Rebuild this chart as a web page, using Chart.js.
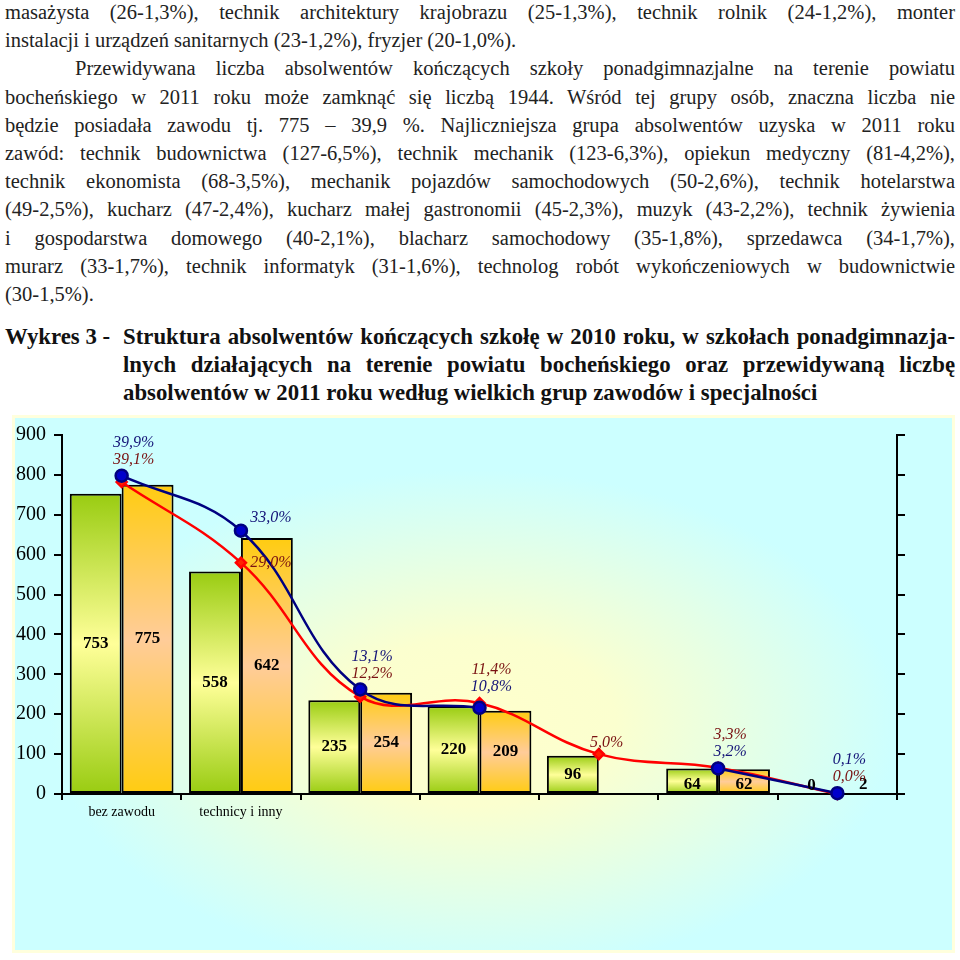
<!DOCTYPE html>
<html lang="pl">
<head>
<meta charset="utf-8">
<script src="https://cdn.jsdelivr.net/npm/chart.js@4.4.0/dist/chart.umd.min.js"></script>
<style>
  body { margin: 0; width: 960px; height: 960px; background: #fff; position: relative; overflow: hidden; font-family: "Liberation Serif", serif; }
  .txt { position: absolute; left: 5px; width: 950px; top: -2px; font-size: 20.5px; line-height: 28.2px; color: #222; }
  .j { text-align: justify; text-align-last: justify; }
  .ind { padding-left: 70px; }
  .tytul { position: absolute; left: 5px; width: 950px; top: 323px; font-weight: bold; font-size: 22.8px; line-height: 28px; color: #111; }
  .tytul .nr { position: absolute; left: 0; top: 0; }
  .tytul .tresc { margin-left: 118px; }
  #box { position: absolute; left: 12px; top: 415px; width: 943px; height: 538px; }
</style>
</head>
<body>

<div class="txt">
  <div class="j">masażysta (26-1,3%), technik architektury krajobrazu (25-1,3%), technik rolnik (24-1,2%), monter</div>
  <div>instalacji i urządzeń sanitarnych (23-1,2%), fryzjer (20-1,0%).</div>
  <div class="j ind">Przewidywana liczba absolwentów kończących szkoły ponadgimnazjalne na terenie powiatu</div>
  <div class="j">bocheńskiego w 2011 roku może zamknąć się liczbą 1944. Wśród tej grupy osób, znaczna liczba nie</div>
  <div class="j">będzie posiadała zawodu tj. 775 – 39,9 %. Najliczniejsza grupa absolwentów uzyska w 2011 roku</div>
  <div class="j">zawód: technik budownictwa (127-6,5%), technik mechanik (123-6,3%), opiekun medyczny (81-4,2%),</div>
  <div class="j">technik ekonomista (68-3,5%), mechanik pojazdów samochodowych (50-2,6%), technik hotelarstwa</div>
  <div class="j">(49-2,5%), kucharz (47-2,4%), kucharz małej gastronomii (45-2,3%), muzyk (43-2,2%), technik żywienia</div>
  <div class="j">i gospodarstwa domowego (40-2,1%), blacharz samochodowy (35-1,8%), sprzedawca (34-1,7%),</div>
  <div class="j">murarz (33-1,7%), technik informatyk (31-1,6%), technolog robót wykończeniowych w budownictwie</div>
  <div>(30-1,5%).</div>
</div>

<div class="tytul">
  <div class="nr">Wykres 3 -</div>
  <div class="tresc">
    <div class="j">Struktura absolwentów kończących szkołę w 2010 roku, w szkołach ponadgimnazja-</div>
    <div class="j">lnych działających na terenie powiatu bocheńskiego oraz przewidywaną liczbę</div>
    <div>absolwentów w 2011 roku według wielkich grup zawodów i specjalności</div>
  </div>
</div>

<div id="box"><canvas id="wykres"></canvas></div>

<script>
// dane z wykresu
const kategorie = ['bez zawodu', 'technicy i inny', '', '', '', '', ''];
const abs2010 = [753, 558, 235, 220, 96, 64, 0];
const abs2011 = [775, 642, 254, 209, null, 62, 2];
const proc2010 = [39.1, 29.0, 12.2, 11.4, 5.0, 3.3, 0.0];
const proc2011 = [39.9, 33.0, 13.1, 10.8, null, 3.2, 0.1];

const FONT = '"Liberation Serif", serif';

// gradient pionowy w kazdym slupku (gora - srodek - dol)
function gradientSlupka(krawedz, srodek) {
  return function (ctx) {
    const chart = ctx.chart;
    if (!chart.chartArea || ctx.type !== 'data' || ctx.raw == null) return krawedz;
    const y = chart.scales.y;
    const gora = y.getPixelForValue(ctx.raw);
    const dol = y.getPixelForValue(0);
    if (dol - gora < 1) return krawedz;
    const g = chart.ctx.createLinearGradient(0, gora, 0, dol);
    g.addColorStop(0, krawedz);
    g.addColorStop(0.5, srodek);
    g.addColorStop(1, krawedz);
    return g;
  };
}

// tlo: jasny blekit na brzegach, zolty w srodku
const tlo = {
  id: 'tlo',
  beforeDraw(chart) {
    const c = chart.ctx, w = chart.width, h = chart.height;
    c.save();
    c.fillStyle = '#ffffdd';
    c.fillRect(0, 0, w, h);
    const cx = w * 0.49, cy = h * 0.57, sx = w * 0.5, sy = h * 0.52;
    c.translate(cx, cy);
    c.scale(sx, sy);
    const g = c.createRadialGradient(0, 0, 0, 0, 0, 1);
    g.addColorStop(0, '#ffffcc');
    g.addColorStop(0.3, '#fbffcf');
    g.addColorStop(0.9, '#ccffff');
    g.addColorStop(1, '#ccffff');
    c.fillStyle = g;
    c.fillRect((3 - cx) / sx, (3 - cy) / sy, (w - 6) / sx, (h - 6) / sy);
    c.restore();
  }
};

function fmt(v) {
  return v.toFixed(1).replace('.', ',') + '%';
}

// etykiety slupkow i procentow
const etykiety = {
  id: 'etykiety',
  afterDatasetsDraw(chart) {
    const c = chart.ctx;
    c.save();
    c.textAlign = 'center';
    c.textBaseline = 'middle';

    c.font = 'bold 17px ' + FONT;
    c.fillStyle = '#000';
    [0, 1].forEach(di => {
      const meta = chart.getDatasetMeta(di);
      meta.data.forEach((bar, i) => {
        const v = chart.data.datasets[di].data[i];
        if (v == null) return;
        let y = (bar.y + bar.base) / 2;
        if (bar.base - bar.y < 30) y = bar.base - 8;
        c.fillText(String(v), bar.x, y);
      });
    });

    c.font = 'italic 16px ' + FONT;
    const czerw = chart.getDatasetMeta(2).data;
    const nieb = chart.getDatasetMeta(3).data;
    const kolR = '#7a1212', kolB = '#141478';
    for (let i = 0; i < kategorie.length; i++) {
      const r = proc2010[i], b = proc2011[i];
      const pr = czerw[i], pb = nieb[i];
      if (r != null && b != null) {
        const bWyzej = b >= r;
        if (Math.abs(pr.y - pb.y) < 25) {
          const yTop = Math.min(pr.y, pb.y);
          c.fillStyle = kolB;
          c.fillText(fmt(b), pb.x + 12, yTop - (bWyzej ? 33 : 16));
          c.fillStyle = kolR;
          c.fillText(fmt(r), pr.x + 12, yTop - (bWyzej ? 16 : 33));
        } else {
          c.fillStyle = kolB;
          c.fillText(fmt(b), pb.x + 30, pb.y - (bWyzej ? 13 : 0));
          c.fillStyle = kolR;
          c.fillText(fmt(r), pr.x + 30, pr.y - (bWyzej ? 0 : 13));
        }
      } else if (r != null) {
        c.fillStyle = kolR;
        c.fillText(fmt(r), pr.x + 8, pr.y - 11);
      } else if (b != null) {
        c.fillStyle = kolB;
        c.fillText(fmt(b), pb.x + 8, pb.y - 11);
      }
    }
    c.restore();
  }
};

const ctx = document.getElementById('wykres').getContext('2d');

new Chart(ctx, {
  type: 'bar',
  data: {
    labels: kategorie,
    datasets: [
      {
        label: '2010',
        data: abs2010,
        order: 2,
        backgroundColor: gradientSlupka('#99cc11', '#ffff99'),
        borderColor: '#000',
        borderWidth: 2,
        borderSkipped: false,
        categoryPercentage: 0.87,
        barPercentage: 1.0
      },
      {
        label: '2011',
        data: abs2011,
        order: 3,
        backgroundColor: gradientSlupka('#ffcc11', '#ffcc99'),
        borderColor: '#000',
        borderWidth: 2,
        borderSkipped: false,
        categoryPercentage: 0.87,
        barPercentage: 1.0
      },
      {
        type: 'line',
        label: '% 2010',
        data: proc2010,
        yAxisID: 'y2',
        order: 1,
        borderColor: '#ff0000',
        borderWidth: 2.5,
        tension: 0.4,
        fill: false,
        clip: false,
        pointStyle: 'rectRot',
        pointRadius: 5,
        pointBackgroundColor: '#ff2200',
        pointBorderColor: '#ff0000'
      },
      {
        type: 'line',
        label: '% 2011',
        data: proc2011,
        yAxisID: 'y2',
        order: 0,
        spanGaps: false,
        borderColor: '#000080',
        borderWidth: 2.5,
        tension: 0.4,
        fill: false,
        clip: false,
        pointStyle: 'circle',
        pointRadius: 6,
        pointBackgroundColor: '#0000cc',
        pointBorderColor: '#000080'
      }
    ]
  },
  options: {
    responsive: true,
    maintainAspectRatio: false,
    animation: false,
    layout: { padding: { top: 18, left: 0, right: 0, bottom: 0 } },
    plugins: {
      legend: { display: false },
      tooltip: { enabled: false }
    },
    scales: {
      x: {
        grid: { offset: true, drawOnChartArea: false, tickLength: 6, color: '#000', lineWidth: 2 },
        border: { color: '#000', width: 2 },
        ticks: { color: '#000', font: { family: FONT, size: 14 }, padding: 4, maxRotation: 0, autoSkip: false },
        afterFit(s) { s.height = 159; }
      },
      y: {
        min: 0,
        max: 900,
        ticks: { stepSize: 100, color: '#000', font: { family: FONT, size: 20 }, padding: 8 },
        grid: { drawOnChartArea: false, tickLength: 8, color: '#000', lineWidth: 2 },
        border: { color: '#000', width: 2 },
        afterFit(s) { s.width = 50; }
      },
      y2: {
        position: 'right',
        min: 0,
        max: 45,
        ticks: { stepSize: 5, display: false },
        grid: { drawOnChartArea: false, tickLength: 8, color: '#000', lineWidth: 2 },
        border: { color: '#000', width: 2 },
        afterFit(s) { s.width = 58; }
      }
    }
  },
  plugins: [tlo, etykiety]
});
</script>
</body>
</html>
